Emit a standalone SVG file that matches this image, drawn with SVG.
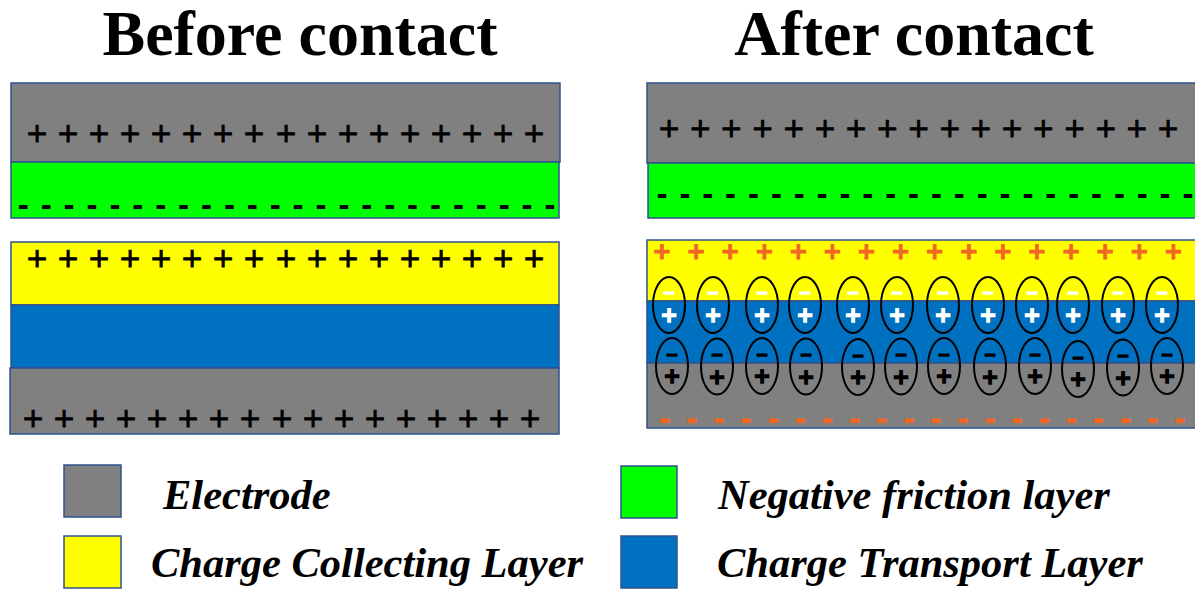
<svg xmlns="http://www.w3.org/2000/svg" width="1195" height="589" viewBox="0 0 1195 589">
<style>
.lay{stroke:#2F528F;stroke-width:1.5}
.el{fill:#808080}.gr{fill:#00FF00}.ye{fill:#FFFF00}.bl{fill:#0070C0}
.title{font-family:"Liberation Serif","Times New Roman",serif;font-weight:bold;font-size:64px;fill:#000;text-anchor:middle}
.leg{font-family:"Liberation Serif","Times New Roman",serif;font-weight:bold;font-style:italic;font-size:42.5px;fill:#000}
.pk{font-family:"DejaVu Sans",sans-serif;font-size:27px;fill:#000;stroke:#000;stroke-width:0.9;text-anchor:middle}
.mk{font-family:"Liberation Sans",Arial,sans-serif;font-weight:bold;font-size:33px;fill:#000;text-anchor:middle}
.po{font-family:"DejaVu Sans",sans-serif;font-weight:bold;font-size:23px;fill:#F26522;stroke:#F26522;stroke-width:1;text-anchor:middle}
.mo{font-family:"Liberation Sans",Arial,sans-serif;font-weight:bold;font-size:36px;fill:#F26522;text-anchor:middle}
.sw{font-family:"DejaVu Sans",sans-serif;font-weight:bold;fill:#fff;stroke:#fff;text-anchor:middle}
.sb{font-family:"DejaVu Sans",sans-serif;font-weight:bold;fill:#000;stroke:#000;text-anchor:middle}
.m{font-size:15px;stroke-width:1.6}
.p{font-size:21px;stroke-width:1.4}
.ell{fill:none;stroke:#000;stroke-width:2}
</style>
<rect width="1195" height="589" fill="#fff"/>

<g id="titles">
<text class="title" x="300" y="55">Before contact</text>
<text class="title" x="914" y="55">After contact</text>
</g>

<g id="before-top-electrode">
<rect class="lay el" x="11" y="83" width="549" height="79"/>
<text class="pk" x="37 68 99 130 161 192 223 254 286 317 348 379 410 441 472 503 534" y="141.6">+++++++++++++++++</text>
</g>
<g id="before-negative-friction">
<rect class="lay gr" x="11" y="162" width="548" height="56"/>
<text class="mk" x="23.3 46.2 69.1 92 114.9 137.8 160.7 183.6 206.5 229.4 252.3 275.2 298.1 321 343.9 366.8 389.7 412.6 435.5 458.4 481.3 504.2 527.1 550" y="215.6">------------------------</text>
</g>
<g id="before-collecting">
<rect class="lay ye" x="11" y="242" width="548" height="63"/>
<text class="pk" x="37 68 99 130 161 192 223 254 286 317 348 379 410 441 472 503 534" y="266.6">+++++++++++++++++</text>
</g>
<g id="before-transport">
<rect class="lay bl" x="11" y="305" width="548" height="63"/>
</g>
<g id="before-bottom-electrode">
<rect class="lay el" x="10" y="368" width="549" height="66"/>
<text class="pk" x="33 64 95 126 157 188 219 250 282 313 344 375 406 437 468 499 530" y="426.6">+++++++++++++++++</text>
</g>

<g id="after-top-electrode">
<rect class="lay el" x="647" y="83" width="552" height="80"/>
<text class="pk" x="669 700.2 731.4 762.6 793.8 825 856.1 887.3 918.5 949.7 980.9 1012.1 1043.3 1074.5 1105.7 1136.9 1168" y="136.6">+++++++++++++++++</text>
</g>
<g id="after-negative-friction">
<rect class="lay gr" x="648" y="163" width="551" height="55"/>
<text class="mk" x="662 684.9 707.7 730.6 753.5 776.4 799.2 822.1 845 867.8 890.7 913.6 936.4 959.3 982.2 1005.1 1027.9 1050.8 1073.7 1096.5 1119.4 1142.3 1165.1 1188" y="204.6">------------------------</text>
</g>
<g id="after-collecting">
<rect class="lay ye" x="647" y="240" width="552" height="61"/>
<text class="po" x="662 696.1 730.2 764.3 798.4 832.5 866.5 900.6 934.7 968.8 1002.9 1037 1071.1 1105.2 1139.3 1173.4" y="259.3">++++++++++++++++</text>
</g>
<g id="after-transport">
<rect class="lay bl" x="647" y="301" width="552" height="62"/>
</g>
<g id="after-bottom-electrode">
<rect class="lay el" x="647" y="363" width="552" height="65"/>
<text class="mo" x="665 692.1 719.2 746.3 773.4 800.5 827.6 854.7 881.8 908.9 936 963.1 990.2 1017.3 1044.4 1071.5 1098.6 1125.7 1152.8 1180" y="430">--------------------</text>
</g>

<g id="dipoles-upper">
<g id="du1"><ellipse class="ell" cx="669" cy="305" rx="16" ry="28"/><text class="sw m" x="669" y="298.3">−</text><text class="sw p" x="669" y="321.7">+</text></g>
<g id="du2"><ellipse class="ell" cx="713" cy="305" rx="16" ry="28"/><text class="sw m" x="713" y="298.3">−</text><text class="sw p" x="713" y="321.7">+</text></g>
<g id="du3"><ellipse class="ell" cx="762" cy="305" rx="16" ry="28"/><text class="sw m" x="762" y="298.3">−</text><text class="sw p" x="762" y="321.7">+</text></g>
<g id="du4"><ellipse class="ell" cx="805" cy="305" rx="16" ry="28"/><text class="sw m" x="805" y="298.3">−</text><text class="sw p" x="805" y="321.7">+</text></g>
<g id="du5"><ellipse class="ell" cx="853" cy="305" rx="16" ry="28"/><text class="sw m" x="853" y="298.3">−</text><text class="sw p" x="853" y="321.7">+</text></g>
<g id="du6"><ellipse class="ell" cx="897" cy="305" rx="16" ry="28"/><text class="sw m" x="897" y="298.3">−</text><text class="sw p" x="897" y="321.7">+</text></g>
<g id="du7"><ellipse class="ell" cx="943" cy="305" rx="16" ry="28"/><text class="sw m" x="943" y="298.3">−</text><text class="sw p" x="943" y="321.7">+</text></g>
<g id="du8"><ellipse class="ell" cx="988" cy="305" rx="16" ry="28"/><text class="sw m" x="988" y="298.3">−</text><text class="sw p" x="988" y="321.7">+</text></g>
<g id="du9"><ellipse class="ell" cx="1032" cy="305" rx="16" ry="28"/><text class="sw m" x="1032" y="298.3">−</text><text class="sw p" x="1032" y="321.7">+</text></g>
<g id="du10"><ellipse class="ell" cx="1073" cy="305" rx="16" ry="28"/><text class="sw m" x="1073" y="298.3">−</text><text class="sw p" x="1073" y="321.7">+</text></g>
<g id="du11"><ellipse class="ell" cx="1118" cy="305" rx="16" ry="28"/><text class="sw m" x="1118" y="298.3">−</text><text class="sw p" x="1118" y="321.7">+</text></g>
<g id="du12"><ellipse class="ell" cx="1162" cy="305" rx="16" ry="28"/><text class="sw m" x="1162" y="298.3">−</text><text class="sw p" x="1162" y="321.7">+</text></g>
</g>

<g id="dipoles-lower">
<g id="dl1"><ellipse class="ell" cx="672" cy="366" rx="16" ry="28"/><text class="sb m" x="672" y="359.8">−</text><text class="sb p" x="672" y="383.2">+</text></g>
<g id="dl2"><ellipse class="ell" cx="717" cy="366.5" rx="16" ry="28"/><text class="sb m" x="717" y="360.3">−</text><text class="sb p" x="717" y="383.7">+</text></g>
<g id="dl3"><ellipse class="ell" cx="762" cy="366" rx="16" ry="28"/><text class="sb m" x="762" y="359.8">−</text><text class="sb p" x="762" y="383.2">+</text></g>
<g id="dl4"><ellipse class="ell" cx="806" cy="366.5" rx="16" ry="28"/><text class="sb m" x="806" y="360.3">−</text><text class="sb p" x="806" y="383.7">+</text></g>
<g id="dl5"><ellipse class="ell" cx="858" cy="367" rx="16" ry="28"/><text class="sb m" x="858" y="360.8">−</text><text class="sb p" x="858" y="384.2">+</text></g>
<g id="dl6"><ellipse class="ell" cx="901" cy="366.5" rx="16" ry="28"/><text class="sb m" x="901" y="360.3">−</text><text class="sb p" x="901" y="383.7">+</text></g>
<g id="dl7"><ellipse class="ell" cx="944" cy="366" rx="16" ry="28"/><text class="sb m" x="944" y="359.8">−</text><text class="sb p" x="944" y="383.2">+</text></g>
<g id="dl8"><ellipse class="ell" cx="990" cy="366.5" rx="16" ry="28"/><text class="sb m" x="990" y="360.3">−</text><text class="sb p" x="990" y="383.7">+</text></g>
<g id="dl9"><ellipse class="ell" cx="1035" cy="366" rx="16" ry="28"/><text class="sb m" x="1035" y="359.8">−</text><text class="sb p" x="1035" y="383.2">+</text></g>
<g id="dl10"><ellipse class="ell" cx="1078" cy="369" rx="16" ry="28"/><text class="sb m" x="1078" y="362.8">−</text><text class="sb p" x="1078" y="386.2">+</text></g>
<g id="dl11"><ellipse class="ell" cx="1123" cy="367.5" rx="16" ry="28"/><text class="sb m" x="1123" y="361.3">−</text><text class="sb p" x="1123" y="384.7">+</text></g>
<g id="dl12"><ellipse class="ell" cx="1167" cy="366" rx="16" ry="28"/><text class="sb m" x="1167" y="359.8">−</text><text class="sb p" x="1167" y="383.2">+</text></g>
</g>

<g id="legend-electrode">
<rect class="lay el" x="64" y="465" width="57" height="52"/>
<text class="leg" x="163" y="509">Electrode</text>
</g>
<g id="legend-collecting">
<rect class="lay ye" x="64" y="536" width="57" height="52"/>
<text class="leg" x="151" y="577">Charge Collecting Layer</text>
</g>
<g id="legend-negative">
<rect class="lay gr" x="621" y="466" width="56" height="52"/>
<text class="leg" x="718" y="509">Negative friction layer</text>
</g>
<g id="legend-transport">
<rect class="lay bl" x="621" y="536" width="56" height="52"/>
<text class="leg" x="717" y="577">Charge Transport Layer</text>
</g>
<g id="connectors"/>
</svg>
